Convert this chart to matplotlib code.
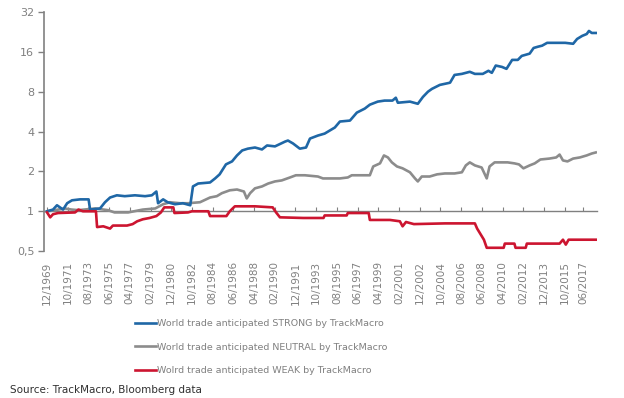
import matplotlib
matplotlib.use("Agg")
import matplotlib.pyplot as plt
import matplotlib.ticker as ticker

# decimal years / cumulative performance (x1 = start)
strong_years = [1969.92, 1970.45, 1970.8, 1971.34, 1971.7, 1972.13, 1972.84, 1973.6, 1973.73, 1974.61,
                1975.05, 1975.5, 1976.1, 1976.8, 1977.7, 1978.6, 1979.2, 1979.6, 1979.75, 1980.2,
                1980.6, 1981.25, 1981.95, 1982.6, 1982.84, 1983.3, 1984.35, 1984.8, 1985.2, 1985.76,
                1986.3, 1986.74, 1987.2, 1987.7, 1988.33, 1988.95, 1989.4, 1990.1, 1991.0, 1991.25,
                1991.7, 1992.3, 1992.85, 1993.2, 1993.9, 1994.5, 1995.4, 1995.85, 1996.74, 1997.35,
                1998.05, 1998.5, 1999.2, 1999.8, 2000.5, 2000.8, 2000.98, 2002.05, 2002.75, 2003.2,
                2003.65, 2004.0, 2004.7, 2005.6, 2006.0, 2006.65, 2007.35, 2007.8, 2008.5, 2009.0,
                2009.3, 2009.65, 2010.2, 2010.6, 2011.1, 2011.6, 2011.95, 2012.65, 2013.0, 2013.4,
                2013.75, 2014.2, 2014.9, 2015.8, 2016.5, 2016.85, 2017.3, 2017.7, 2017.9, 2018.15,
                2018.5]
strong_vals = [1.00, 1.03, 1.11, 1.03, 1.15, 1.21, 1.23, 1.23, 1.03, 1.05,
               1.17, 1.27, 1.32, 1.30, 1.32, 1.30, 1.32, 1.41, 1.15, 1.23,
               1.17, 1.13, 1.15, 1.11, 1.54, 1.62, 1.65, 1.77, 1.90, 2.26,
               2.38, 2.64, 2.88, 2.97, 3.03, 2.93, 3.14, 3.09, 3.36, 3.42,
               3.25, 2.97, 3.03, 3.54, 3.73, 3.86, 4.29, 4.76, 4.84, 5.56,
               5.96, 6.38, 6.73, 6.85, 6.85, 7.2, 6.6, 6.73, 6.48, 7.3,
               8.0, 8.4, 9.0, 9.35, 10.7, 10.9, 11.3, 10.9, 10.9, 11.5,
               11.1, 12.6, 12.3, 11.9, 13.9, 13.9, 14.9, 15.5, 17.1, 17.5,
               17.8, 18.7, 18.7, 18.7, 18.4, 20.0, 21.1, 21.8, 23.0, 22.2,
               22.2]

neutral_years = [1969.92, 1970.6, 1971.5, 1972.1, 1972.7, 1974.2, 1975.3, 1975.9, 1977.1, 1978.4,
                 1979.5, 1980.2, 1980.8, 1981.7, 1982.4, 1983.46, 1984.35, 1984.95, 1985.4, 1986.1,
                 1986.74, 1987.35, 1987.6, 1987.9, 1988.33, 1988.95, 1989.5, 1990.1, 1990.7, 1991.43,
                 1991.95, 1992.75, 1993.9, 1994.35, 1995.85, 1996.55, 1996.9, 1998.5, 1998.8, 1999.4,
                 1999.75, 2000.1, 2000.45, 2000.9, 2001.4, 2002.05, 2002.5, 2002.75, 2003.1, 2003.8,
                 2004.45, 2005.15, 2006.0, 2006.65, 2007.0, 2007.35, 2007.8, 2008.4, 2008.85, 2009.1,
                 2009.55, 2010.2, 2010.7, 2011.3, 2011.7, 2012.1, 2012.65, 2013.1, 2013.6, 2014.4,
                 2015.0, 2015.3, 2015.6, 2016.0, 2016.5, 2017.1, 2017.7, 2018.15, 2018.5]
neutral_vals = [1.00, 1.02, 1.05, 1.03, 1.02, 1.05, 1.02, 0.98, 0.98, 1.03,
                1.05, 1.13, 1.17, 1.15, 1.15, 1.17, 1.27, 1.30, 1.37, 1.44,
                1.46, 1.41, 1.25, 1.37, 1.49, 1.54, 1.62, 1.68, 1.71, 1.80,
                1.87, 1.87, 1.83, 1.77, 1.77, 1.80, 1.87, 1.87, 2.18, 2.30,
                2.64, 2.55, 2.34, 2.18, 2.11, 1.97, 1.77, 1.68, 1.83, 1.83,
                1.90, 1.93, 1.93, 1.97, 2.22, 2.34, 2.22, 2.14, 1.77, 2.18,
                2.34, 2.34, 2.34, 2.30, 2.26, 2.11, 2.22, 2.30, 2.46, 2.50,
                2.55, 2.68, 2.42, 2.38, 2.50, 2.55, 2.64, 2.73, 2.78]

weak_years = [1969.92, 1970.2, 1970.45, 1970.9, 1972.4, 1972.7, 1973.1, 1974.25, 1974.35, 1974.9,
              1975.5, 1975.75, 1977.0, 1977.5, 1977.9, 1978.4, 1979.0, 1979.6, 1980.0, 1980.3,
              1981.1, 1981.2, 1982.4, 1982.75, 1984.2, 1984.35, 1985.8, 1986.1, 1986.55, 1988.33,
              1989.9, 1990.2, 1990.54, 1992.6, 1994.4, 1994.5, 1996.45, 1996.55, 1998.4, 1998.5,
              2000.28, 2001.16, 2001.4, 2001.7, 2002.4, 2005.15, 2007.8, 2008.0, 2008.6, 2008.85,
              2010.35, 2010.45, 2011.3, 2011.4, 2012.3, 2012.4, 2015.3, 2015.6, 2015.85, 2016.1,
              2018.5]
weak_vals = [0.98, 0.90, 0.95, 0.97, 0.98, 1.03, 1.00, 1.00, 0.76, 0.77,
             0.74, 0.78, 0.78, 0.80, 0.84, 0.87, 0.89, 0.92, 0.98, 1.07,
             1.07, 0.97, 0.98, 1.00, 1.00, 0.92, 0.92, 1.00, 1.09, 1.09,
             1.07, 0.98, 0.90, 0.89, 0.89, 0.93, 0.93, 0.97, 0.97, 0.86,
             0.86, 0.84, 0.77, 0.83, 0.80, 0.81, 0.81, 0.74, 0.61, 0.53,
             0.53, 0.57, 0.57, 0.53, 0.53, 0.57, 0.57, 0.61, 0.56, 0.61,
             0.61]

tick_labels = ["12/1969", "10/1971", "08/1973", "06/1975", "04/1977", "02/1979", "12/1980",
               "10/1982", "08/1984", "06/1986", "04/1988", "02/1990", "12/1991", "10/1993",
               "08/1995", "06/1997", "04/1999", "02/2001", "12/2002", "10/2004", "08/2006",
               "06/2008", "04/2010", "02/2012", "12/2013", "10/2015", "06/2017"]
y_ticks = [0.5, 1, 2, 4, 8, 16, 32]
y_labels = ["0,5", "1", "2", "4", "8", "16", "32"]

names = ["World trade anticipated STRONG by TrackMacro",
         "World trade anticipated NEUTRAL by TrackMacro",
         "Wolrd trade anticipated WEAK by TrackMacro"]
colors = ["#1f67a6", "#8c8c8c", "#cc1530"]
grey = "#808080"

fig = plt.figure(figsize=(6.24, 3.98), dpi=100)
ax = fig.add_axes([0.0705, 0.369, 0.886, 0.601])

ax.plot(strong_years, strong_vals, color=colors[0], lw=1.9, label=names[0], zorder=4)
ax.plot(neutral_years, neutral_vals, color=colors[1], lw=1.9, label=names[1], zorder=3)
ax.plot(weak_years, weak_vals, color=colors[2], lw=1.9, label=names[2], zorder=5)

ax.set_yscale("log", base=2)
ax.set_ylim(0.5, 32)
ax.set_xlim(1969.65, 2018.6)
ax.yaxis.set_major_locator(ticker.FixedLocator(y_ticks))
ax.yaxis.set_minor_locator(ticker.NullLocator())
ax.set_yticklabels(y_labels)

# x ticks every 22 months, positions from the labels themselves
xpos = [int(s[3:]) + (int(s[:2]) - 1) / 12 for s in tick_labels]
ax.set_xticks(xpos)
ax.set_xticklabels(tick_labels)
ax.xaxis.set_minor_locator(ticker.NullLocator())

for s in ["top", "right"]:
    ax.spines[s].set_visible(False)
ax.spines["left"].set_color(grey)
ax.spines["left"].set_linewidth(1.2)
ax.spines["bottom"].set_position(("data", 1))
ax.spines["bottom"].set_color(grey)
ax.spines["bottom"].set_linewidth(1.0)
ax.spines["bottom"].set_zorder(1)

ax.tick_params(axis="y", colors=grey, labelsize=8, length=4, width=1, pad=3)
ax.tick_params(axis="x", colors=grey, labelsize=7.5, direction="in", length=3, width=0.8,
               pad=36, labelrotation=90)

leg = fig.legend(loc="upper left", bbox_to_anchor=(135 / 624, 1 - 319 / 398), frameon=False,
                 fontsize=6.8, handlelength=2.2, handletextpad=0.15, labelspacing=1.55,
                 borderaxespad=0, borderpad=0)
for t in leg.get_texts():
    t.set_color(grey)

fig.text(10 / 624, 1 - 390 / 398, "Source: TrackMacro, Bloomberg data", fontsize=7.5,
         color="#303030", va="center", ha="left")

fig.savefig("out.png", dpi=100, facecolor="white")
